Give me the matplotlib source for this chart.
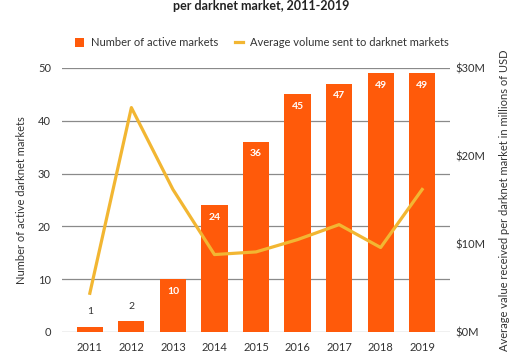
import matplotlib.pyplot as plt
import numpy as np

years = ['2011', '2012', '2013', '2014', '2015', '2016', '2017', '2018', '2019']
markets = [1, 2, 10, 24, 36, 45, 47, 49, 49]
avg_volume = [4.4, 25.5, 16.2, 8.8, 9.1, 10.5, 12.2, 9.6, 16.2]  # millions USD
right_ticks = ['$0M', '$10M', '$20M', '$30M']

plt.rcParams['font.family'] = ['Lato', 'DejaVu Sans']
bar_c = '#FF5A0A'
line_c = '#F2B632'
txt_c = '#333333'
grid_c = '#8a8a8a'

fig = plt.figure(figsize=(5.22, 3.58), dpi=100)
ax = fig.add_axes([62/522, 26/358, 388/522, 264/358])
x = np.arange(len(years))

ax.set_ylim(0, 50)
ax.set_xlim(-0.67, 8.67)
ax.set_yticks(range(0, 51, 10))
ax.yaxis.grid(True, color=grid_c, linewidth=0.9)
ax.set_axisbelow(True)
for s in ax.spines.values():
    s.set_visible(False)
ax.tick_params(axis='y', length=0, pad=8, labelsize=8, labelcolor=txt_c)
ax.tick_params(axis='x', length=0, pad=7, labelsize=8, labelcolor=txt_c)

bars = ax.bar(x, markets, width=0.63, color=bar_c, zorder=2,
              label='Number of active markets')
for xi, v in zip(x, markets):
    if v < 5:
        ax.text(xi, v + 2, str(v), ha='center', va='bottom', fontsize=7.5, color=txt_c)
    else:
        ax.text(xi, v - 1.4, str(v), ha='center', va='top', fontsize=7.5,
                color='white', fontweight='bold')
ax.set_xticks(x)
ax.set_xticklabels(years)
ax.set_ylabel('Number of active darknet markets', fontsize=8, color=txt_c, labelpad=8)

ax2 = ax.twinx()
ax2.set_ylim(0, 30)
ax2.set_yticks([0, 10, 20, 30])
ax2.set_yticklabels(right_ticks)
for s in ax2.spines.values():
    s.set_visible(False)
ax2.tick_params(axis='y', length=0, pad=4, labelsize=8, labelcolor=txt_c)
ln, = ax2.plot(x, avg_volume, color=line_c, linewidth=2.3, zorder=3,
               label='Average volume sent to darknet markets')
ax2.set_ylabel('Average value received per darknet market in millions of USD',
               fontsize=8, color=txt_c, labelpad=10)

fig.legend([bars, ln], [bars.get_label(), ln.get_label()], loc='center',
           bbox_to_anchor=(262/522, 1 - 43/358), ncol=2, frameon=False,
           fontsize=8, handlelength=0.8, handleheight=0.8, columnspacing=1.5,
           handletextpad=0.6, labelcolor=txt_c)

fig.text(0.5, 1 - 6/358, 'per darknet market, 2011-2019', ha='center', va='center',
         fontsize=9, fontweight='bold', color='#222222')

fig.savefig('out.png', dpi=100)
